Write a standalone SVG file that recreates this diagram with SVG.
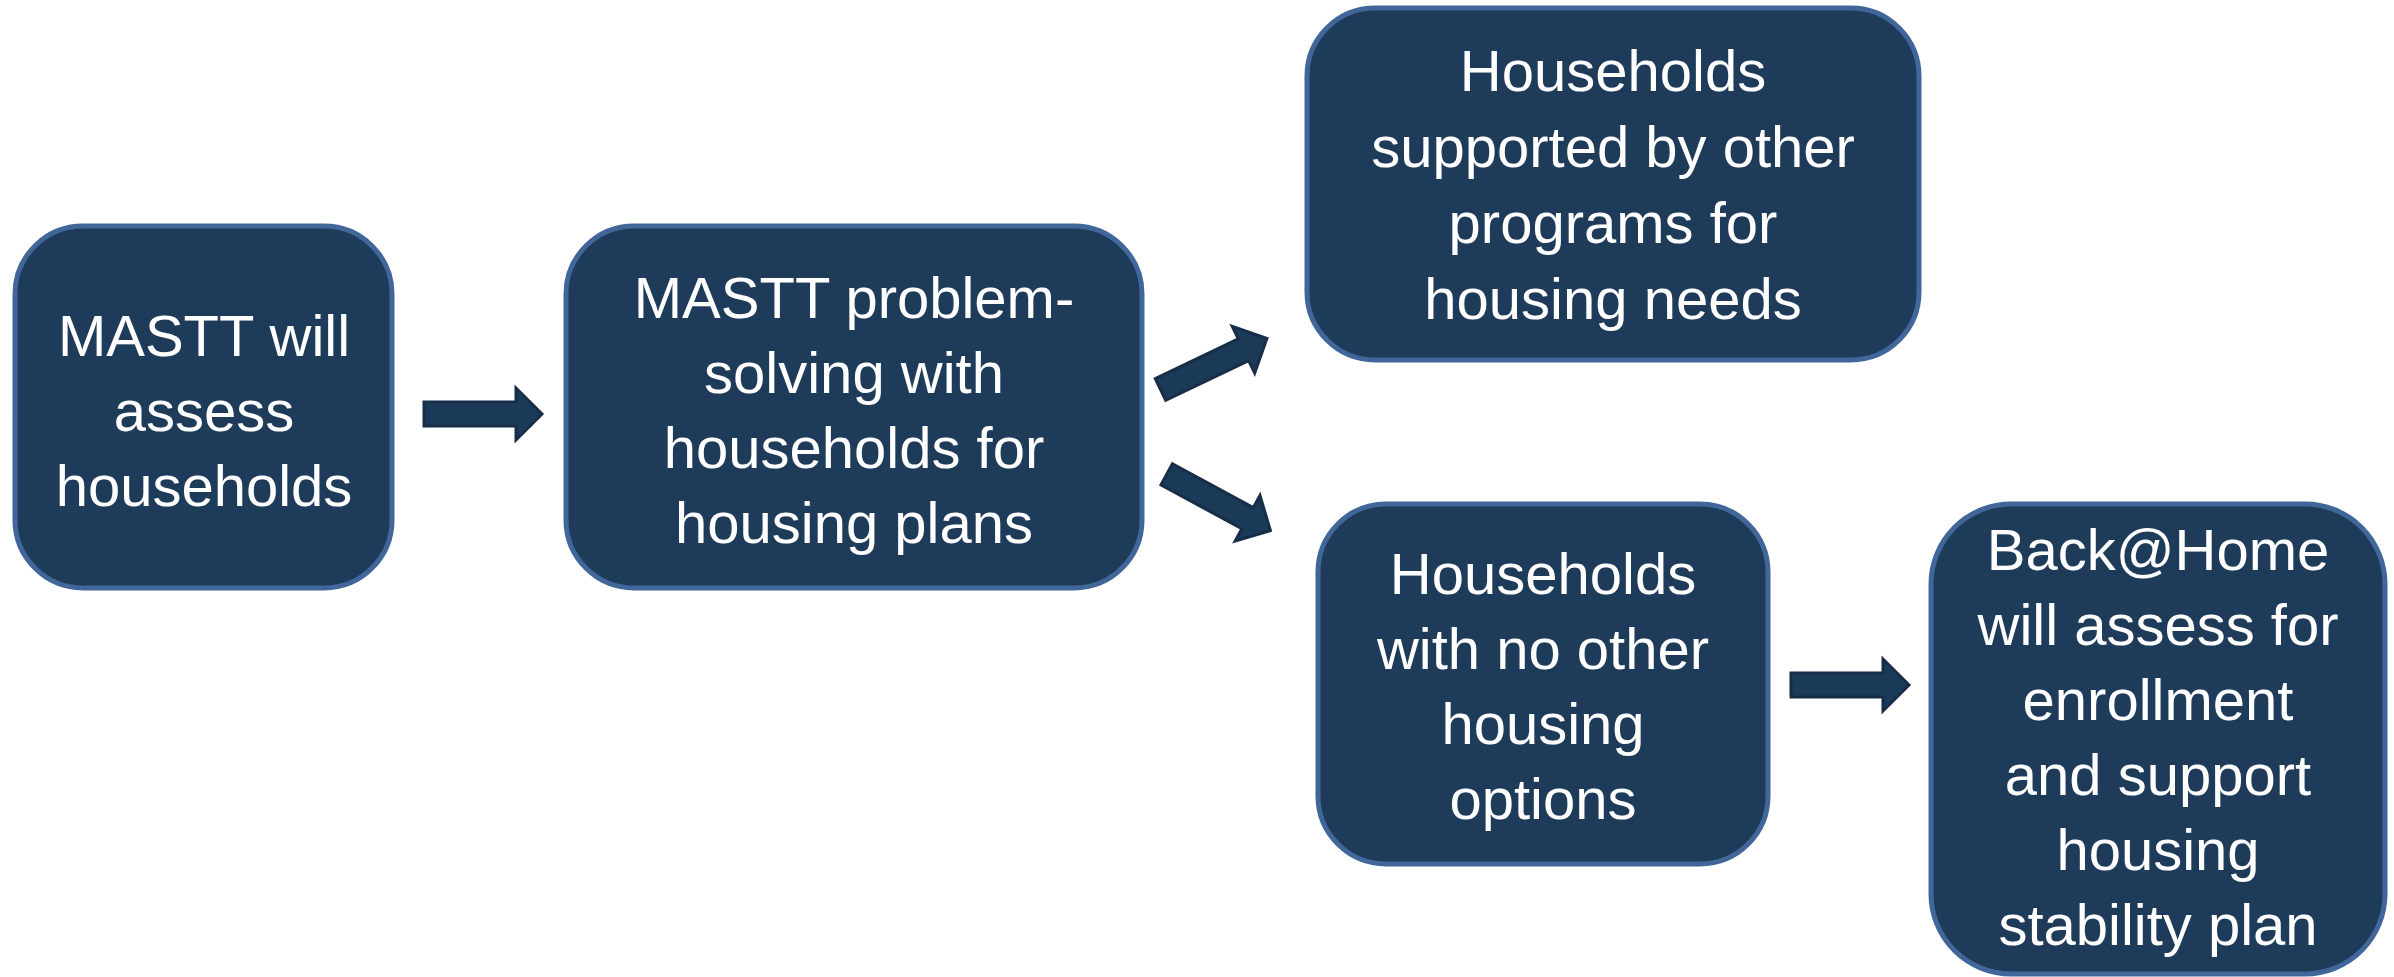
<svg xmlns="http://www.w3.org/2000/svg" xmlns:xlink="http://www.w3.org/1999/xlink" width="2394" height="977" viewBox="0 0 2394 977">
<style>
.box{fill:#1f3b5a;stroke:#41679a;stroke-width:5}
.t{font-family:"Liberation Sans",Arial,sans-serif;font-size:58px;fill:#ffffff;text-anchor:middle}
.arr{fill:#1a3a58;stroke:#172d48;stroke-width:3;stroke-linejoin:miter}
</style>
<defs>
<path id="arr" d="M0,-12 L92,-12 L92,-26 L118,0 L92,26 L92,12 L0,12 Z"/>
</defs>
<rect width="2394" height="977" fill="#ffffff"/>
<g id="connectors">
<use xlink:href="#arr" href="#arr" class="arr" transform="translate(424,414)"/>
<use xlink:href="#arr" href="#arr" class="arr" transform="translate(1160.5,389.5) rotate(-25.6)"/>
<use xlink:href="#arr" href="#arr" class="arr" transform="translate(1166.7,474.3) rotate(28.5)"/>
<use xlink:href="#arr" href="#arr" class="arr" transform="translate(1791,685)"/>
</g>
<g id="node1">
<rect class="box" x="15" y="226" width="377" height="362" rx="68"/>
<text class="t" x="204" y="356">MASTT will</text>
<text class="t" x="204" y="431">assess</text>
<text class="t" x="204" y="506">households</text>
</g>
<g id="node2">
<rect class="box" x="566" y="226" width="576" height="362" rx="68"/>
<text class="t" x="854" y="318">MASTT problem-</text>
<text class="t" x="854" y="393">solving with</text>
<text class="t" x="854" y="468">households for</text>
<text class="t" x="854" y="543">housing plans</text>
</g>
<g id="node3">
<rect class="box" x="1307" y="8" width="612" height="352" rx="68"/>
<text class="t" x="1613" y="91">Households</text>
<text class="t" x="1613" y="167">supported by other</text>
<text class="t" x="1613" y="243">programs for</text>
<text class="t" x="1613" y="319">housing needs</text>
</g>
<g id="node4">
<rect class="box" x="1318" y="504" width="450" height="360" rx="68"/>
<text class="t" x="1543" y="594">Households</text>
<text class="t" x="1543" y="669">with no other</text>
<text class="t" x="1543" y="744">housing</text>
<text class="t" x="1543" y="819">options</text>
</g>
<g id="node5">
<rect class="box" x="1931" y="504" width="454" height="470" rx="80"/>
<text class="t" x="2158" y="570">Back@Home</text>
<text class="t" x="2158" y="645">will assess for</text>
<text class="t" x="2158" y="720">enrollment</text>
<text class="t" x="2158" y="795">and support</text>
<text class="t" x="2158" y="870">housing</text>
<text class="t" x="2158" y="945">stability plan</text>
</g>
</svg>
